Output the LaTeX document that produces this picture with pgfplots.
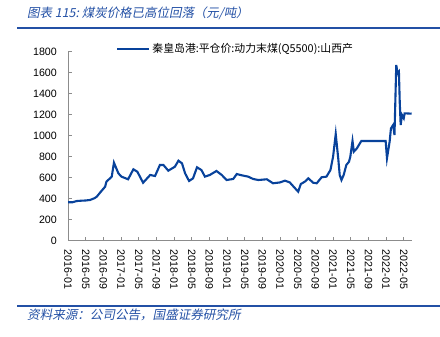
\documentclass[border=0pt]{standalone}
\usepackage{pgfplots}
\pgfplotsset{compat=1.18}
\usepackage{fontspec}
\setmainfont{Liberation Sans}
\newfontfamily\cjk{Noto Sans CJK SC}
\newfontfamily\cjkit[FakeSlant=0.2]{Noto Sans CJK SC}
\definecolor{dataBlue}{RGB}{8,66,155}
\definecolor{titleBlue}{RGB}{35,80,165}
\definecolor{axGray}{RGB}{140,140,140}
\begin{document}
\begin{tikzpicture}[x=1bp,y=1bp]
\path[use as bounding box] (0,0) rectangle (440,336);
% title and rules
\node[anchor=west,inner sep=0pt,text=titleBlue,font=\cjkit\fontsize{12.5}{14}\selectfont] at (27,323) {图表 115:~煤炭价格已高位回落（元/吨）};
\draw[titleBlue,line width=1.6bp] (17,308) -- (440,308);
\draw[titleBlue,line width=1.6bp] (17,30) -- (440,30);
\node[anchor=west,inner sep=0pt,text=titleBlue,font=\cjkit\fontsize{12.6}{14}\selectfont] at (27,21) {资料来源：公司公告，国盛证券研究所};
\begin{axis}[
  at={(68bp,95.3bp)}, anchor=south west,
  scale only axis, width=343.7bp, height=189bp,
  xmin=0, xmax=77.8, ymin=0, ymax=1800,
  axis lines=left, axis line style={axGray,line width=0.8bp,-},
  axis x line*=bottom, axis y line*=left,
  tick style={axGray,line width=0.8bp}, tick align=inside, major tick length=3.5bp,
  ytick={0,200,...,1800},
  xtick={0,4,...,76},
  xticklabels={2016-01,2016-05,2016-09,2017-01,2017-05,2017-09,2018-01,2018-05,2018-09,2019-01,2019-05,2019-09,2020-01,2020-05,2020-09,2021-01,2021-05,2021-09,2022-01,2022-05},
  xticklabel style={rotate=-90,anchor=west,inner sep=0pt,font=\fontsize{10.7}{12}\selectfont},
  yticklabel style={anchor=east,inner sep=0pt,font=\fontsize{10.7}{12}\selectfont},
  xticklabel shift=9bp, yticklabel shift=11bp,
  /pgf/number format/assume math mode=true,
  scaled y ticks=false, yticklabel={\pgfmathprintnumber[fixed,1000 sep={}]{\tick}},
  legend style={at={(rel axis cs:0.14,1.014)},anchor=west,draw=none,fill=none,inner sep=0pt,
    nodes={inner sep=2bp,font=\cjk\fontsize{10.9}{12}\selectfont}},
  legend image code/.code={\draw[#1] (0bp,0bp) -- (32bp,0bp);},
  clip=false,
]
\addplot[dataBlue,line width=2.1bp] coordinates {
(0,366)(1,366)(2,378)(3,381)(4,383)(5,388)(6,405)(6.5,419)(7.5,470)(8.4,514)(8.7,562)(9.9,610)(10.4,743)(11.4,642)(12.1,610)(13.6,585)(14.8,680)(15.7,657)(17,552)(18.6,626)(19.7,616)(20.8,721)(21.6,721)(22.7,667)(24.2,705)(25,762)(25.8,737)(26.5,642)(27.4,569)(28.3,594)(29.2,699)(30.2,673)(31,610)(32.1,626)(33.6,664)(34.8,626)(35.9,578)(37.4,588)(38.2,635)(39.3,623)(40.8,610)(41.9,588)(43.1,578)(45,585)(46.4,547)(48,555)(49.1,572)(50.2,555)(51.4,499)(52.1,467)(52.7,540)(53.6,562)(54.4,594)(55.5,552)(56.3,547)(57.4,604)(58.5,610)(59.4,673)(60,800)(60.6,1016)(61.2,769)(61.5,626)(61.9,578)(62.4,626)(63,721)(63.6,752)(63.9,800)(64.4,950)(64.7,848)(65.4,880)(66.4,950)(71.9,950)(72.2,785)(72.8,943)(73.1,1070)(73.6,1102)(73.9,1007)(74.3,1673)(74.6,1594)(74.9,1610)(75.1,1309)(75.3,1102)(75.6,1197)(76,1166)(76.2,1213)(77.8,1210)
};
\addlegendentry{秦皇岛港:平仓价:动力末煤(Q5500):山西产}
\end{axis}
\end{tikzpicture}
\end{document}
